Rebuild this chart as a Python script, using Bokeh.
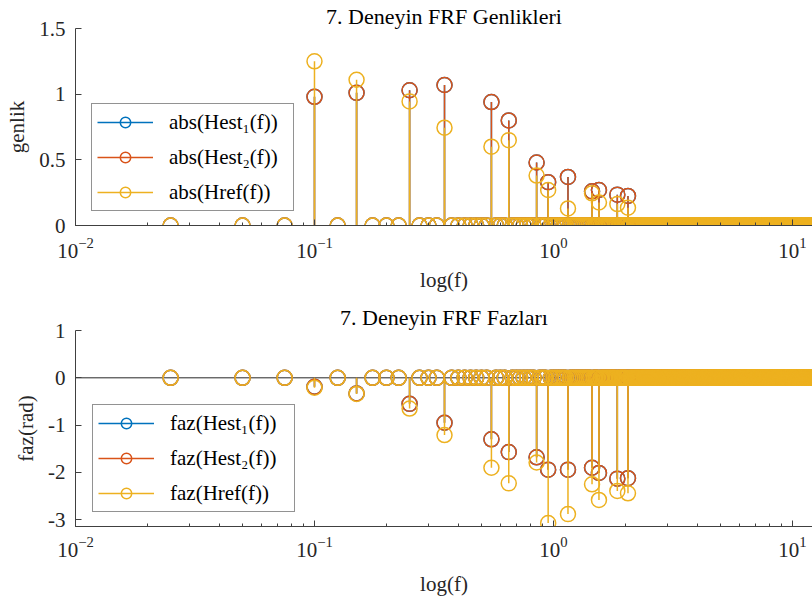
import numpy as np
from bokeh.plotting import figure
from bokeh.models import (Range1d, Span, Legend, LegendItem, ColumnDataSource,
                          CustomJSTickFormatter, FixedTicker)
from bokeh.layouts import column
from bokeh.embed import file_html
from bokeh.resources import INLINE

# ---------------- data ----------------
DF = 0.025            # frequency resolution of the FFT bins (Hz)
N_BINS = 540          # number of bins shown
bins = np.arange(1, N_BINS + 1)
freqs = DF * bins

# bins carrying non-zero response (f = bin * DF)
peak_bins = [4, 6, 10, 14, 22, 26, 34, 38, 46, 58, 62, 74, 82]

mag_hest1 = [0.98, 1.01, 1.03, 1.07, 0.94, 0.80, 0.48, 0.33, 0.37, 0.26, 0.27, 0.235, 0.225]
mag_hest2 = [0.98, 1.01, 1.03, 1.07, 0.94, 0.80, 0.48, 0.33, 0.37, 0.26, 0.27, 0.235, 0.225]
mag_href = [1.25, 1.11, 0.945, 0.745, 0.60, 0.65, 0.38, 0.27, 0.13, 0.245, 0.175, 0.163, 0.135]

ph_hest1 = [-0.19, -0.33, -0.55, -0.95, -1.30, -1.57, -1.68, -1.94, -1.94, -1.90, -2.01, -2.13, -2.12]
ph_hest2 = [-0.19, -0.33, -0.55, -0.95, -1.30, -1.57, -1.68, -1.94, -1.94, -1.90, -2.01, -2.13, -2.12]
ph_href = [-0.21, -0.34, -0.65, -1.21, -1.90, -2.23, -1.79, -3.07, -2.88, -2.25, -2.58, -2.39, -2.44]

series_names_mag = ["abs(Hest\u2081(f))", "abs(Hest\u2082(f))", "abs(Href(f))"]
series_names_ph = ["faz(Hest\u2081(f))", "faz(Hest\u2082(f))", "faz(Href(f))"]
colors = ["#0072BD", "#D95319", "#EDB120"]

mag_ticks = [0, 0.5, 1, 1.5]
ph_ticks = [-3, -2, -1, 0, 1]


def full_series(vals):
    arr = np.zeros(N_BINS)
    for b, v in zip(peak_bins, vals):
        arr[b - 1] = v
    return arr


FONT = "Liberation Serif"
AX_COL = "#404040"
TXT_COL = "#262626"


def make_fig(title, ylabel, yr, yticks, height, top, bottom,
             title_standoff, lab_standoff, axlab_standoff):
    p = figure(width=812, height=height, x_axis_type="log",
               x_range=Range1d(0.01, 12.13), y_range=Range1d(*yr),
               output_backend="svg", toolbar_location=None,
               min_border_left=75, min_border_right=0,
               min_border_top=top, min_border_bottom=bottom,
               title=title)
    p.title.text_font = FONT
    p.title.text_font_size = "22px"
    p.title.text_font_style = "normal"
    p.title.text_color = "#000000"
    p.title.align = "center"
    p.title.offset = 5
    p.title.standoff = title_standoff
    p.outline_line_color = None
    p.xgrid.visible = False
    p.ygrid.visible = False
    p.background_fill_color = "white"
    p.border_fill_color = "white"

    for ax in (p.xaxis[0], p.yaxis[0]):
        ax.axis_line_color = AX_COL
        ax.major_tick_line_color = AX_COL
        ax.minor_tick_line_color = AX_COL
        ax.major_tick_in = 6
        ax.major_tick_out = 0
        ax.minor_tick_in = 3
        ax.minor_tick_out = 0
        ax.major_label_text_font = FONT
        ax.major_label_text_font_size = "21px"
        ax.major_label_text_color = TXT_COL
        ax.axis_label_text_font = FONT
        ax.axis_label_text_font_size = "21px"
        ax.axis_label_text_font_style = "normal"
        ax.axis_label_text_color = TXT_COL

    p.xaxis.axis_label = "log(f)"
    p.xaxis.major_label_standoff = lab_standoff
    p.xaxis.axis_label_standoff = axlab_standoff

    p.yaxis.axis_label = ylabel
    p.yaxis.ticker = FixedTicker(ticks=yticks)
    p.yaxis.formatter = CustomJSTickFormatter(code="return tick.toString();")
    p.yaxis.major_label_standoff = 10
    p.yaxis.axis_label_standoff = 7
    p.yaxis.minor_tick_line_color = None
    return p


def add_stems(p, data_list, names, legend_loc):
    base = Span(location=0, dimension="width", line_color="#262626",
                line_width=1, level="underlay")
    p.add_layout(base)
    items = []
    for vals, name, col in zip(data_list, names, colors):
        full = full_series(vals)
        nz = full != 0
        seg_src = ColumnDataSource(dict(x=freqs[nz], y=full[nz],
                                        y0=np.zeros(nz.sum())))
        pt_src = ColumnDataSource(dict(x=freqs, y=full))
        r1 = p.segment(x0="x", y0="y0", x1="x", y1="y", source=seg_src,
                       line_color=col, line_width=1.5)
        r2 = p.scatter(x="x", y="y", source=pt_src, marker="circle", size=15,
                       fill_color=None, line_color=col, line_width=1.5)
        items.append(LegendItem(label=name, renderers=[r1, r2]))
    leg = Legend(items=items, location=legend_loc)
    leg.label_text_font = FONT
    leg.label_text_font_size = "21px"
    leg.label_text_color = "#000000"
    leg.border_line_color = "#262626"
    leg.border_line_width = 1
    leg.background_fill_color = "white"
    leg.background_fill_alpha = 1
    leg.glyph_width = 56
    leg.glyph_height = 26
    leg.label_height = 26
    leg.label_width = 119
    leg.label_standoff = 16
    leg.spacing = 9
    leg.padding = 5
    leg.margin = 0
    p.add_layout(leg, "center")


p1 = make_fig("7. Deneyin FRF Genlikleri", "genlik", (0, 1.5), mag_ticks,
              301, 28, 76, 0, 12, 7)
add_stems(p1, [mag_hest1, mag_hest2, mag_href], series_names_mag, (16, 14))

p2 = make_fig("7. Deneyin FRF Fazları", "faz(rad)", (-3.1416, 1), ph_ticks,
              304, 29, 79, 2, 10, 12)
add_stems(p2, [ph_hest1, ph_hest2, ph_href], series_names_ph, (17, 14))

layout = column(p1, p2, spacing=0)
open("out.html", "w").write(file_html(layout, INLINE))
